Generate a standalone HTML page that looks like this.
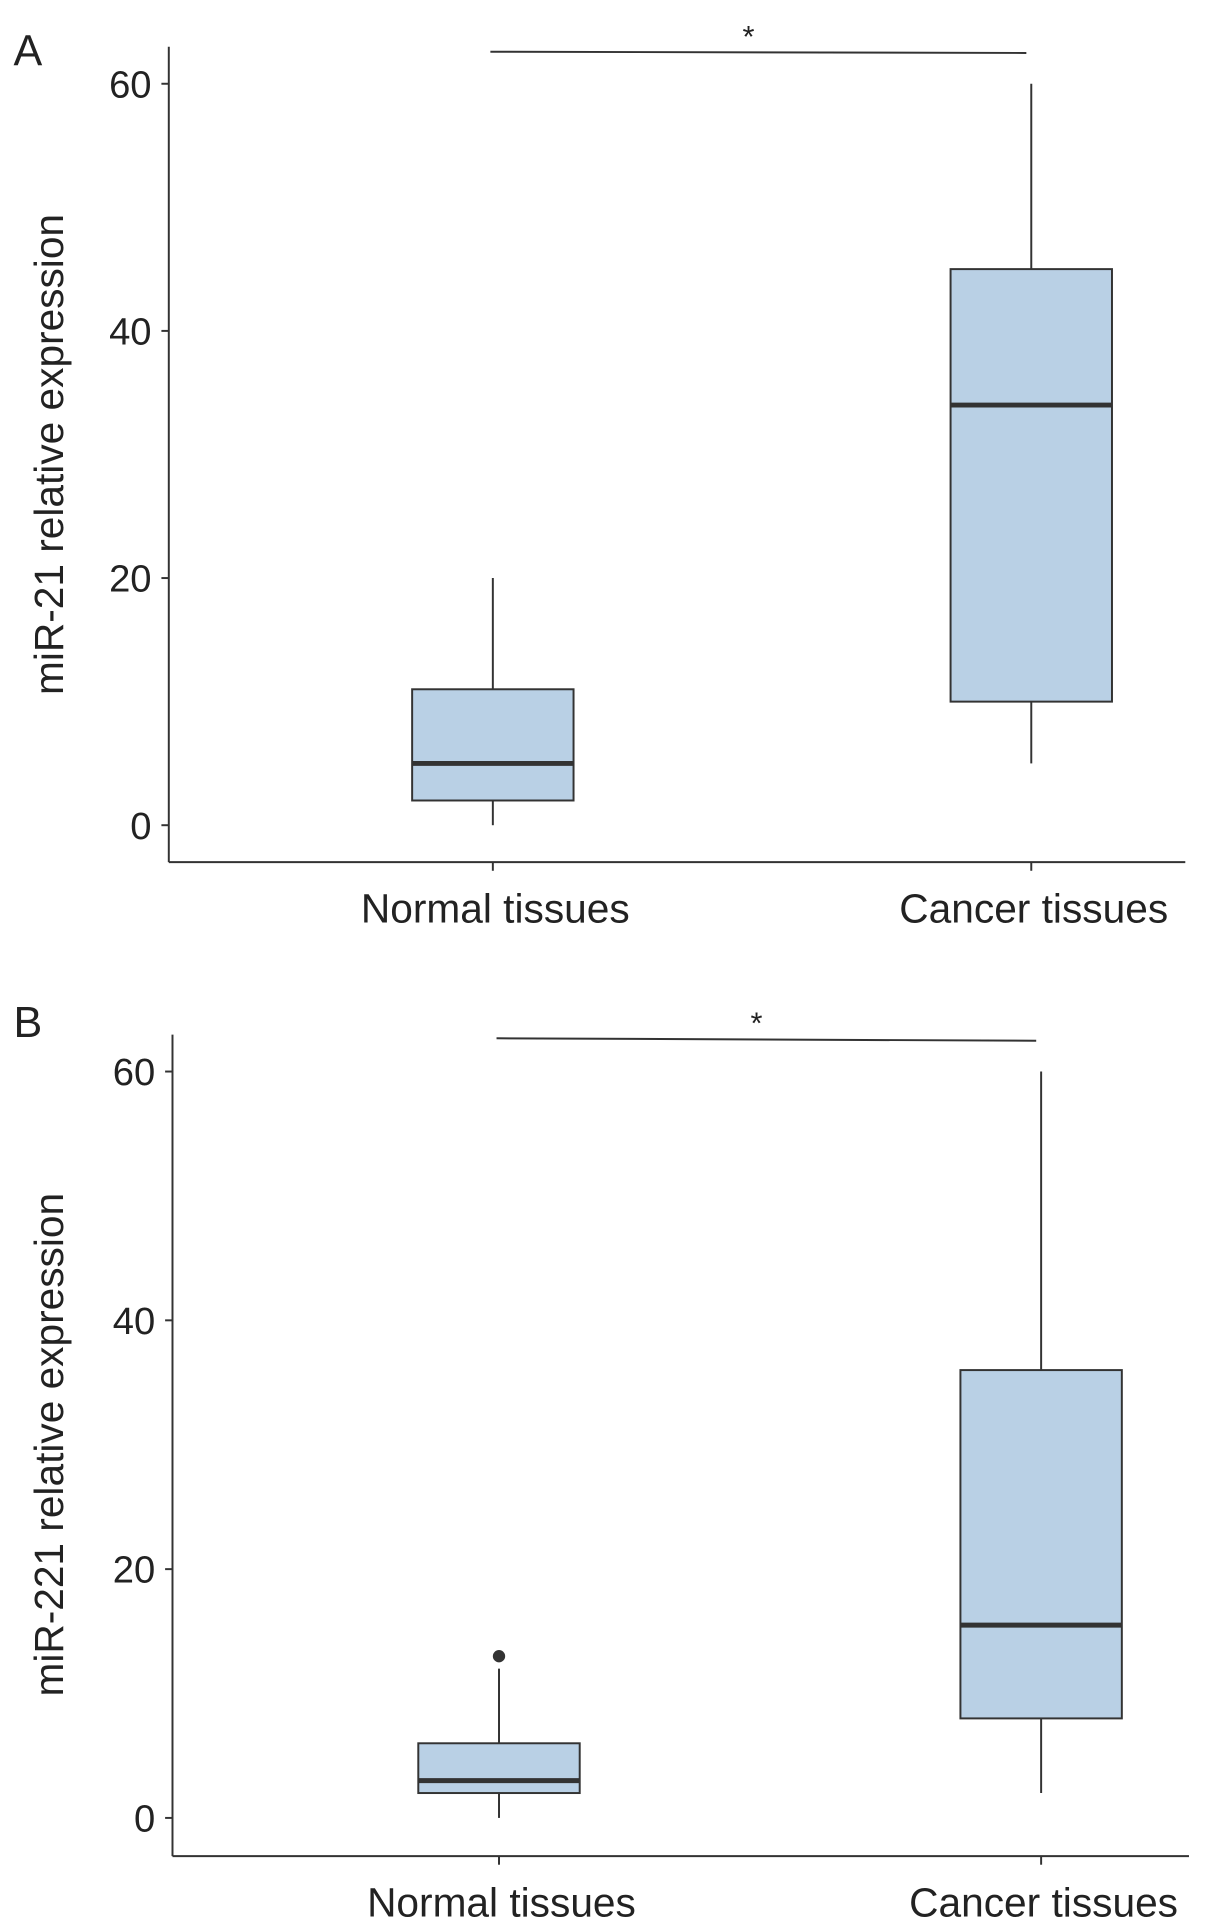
<!DOCTYPE html>
<html><head><meta charset="utf-8"><style>
html,body{margin:0;padding:0;background:#fff}
svg{display:block}
text{font-family:"Liberation Sans",Arial,sans-serif;fill:#222}
</style></head><body>
<svg id="fig" width="1205" height="1930" viewBox="0 0 978 1567" preserveAspectRatio="none" xmlns="http://www.w3.org/2000/svg"></svg>
<script>
const categories = ["Normal tissues", "Cancer tissues"];
const yTicks = [0, 20, 40, 60];
// panel A: miR-21  [low, q1, median, q3, high]
const statsA_normal = [0, 2, 5, 11, 20];
const statsA_cancer = [5, 10, 34, 45, 60];
const outliersA_normal = [];
const outliersA_cancer = [];
// panel B: miR-221
const statsB_normal = [0, 2, 3, 6, 12];
const statsB_cancer = [2, 8, 15.5, 36, 60];
const outliersB_normal = [13];
const outliersB_cancer = [];

const NS = "http://www.w3.org/2000/svg";
const svg = document.getElementById("fig");
function mk(tag, attrs, parent, txt){
  const e = document.createElementNS(NS, tag);
  for (const k in attrs) e.setAttribute(k, attrs[k]);
  if (txt !== undefined) e.textContent = txt;
  (parent || svg).appendChild(e);
  return e;
}
function panel(cfg){
  const g = mk("g", {});
  
  
  const y = v => cfg.y0 - (v / 60) * (cfg.y0 - cfg.y60);
  const xs = [cfg.xN, cfg.xC];
  const lab = mk("text", {x: 11, y: cfg.labY, "font-size": 35}, g, cfg.label);
  
  
  const ya = mk("line", {x1: cfg.ax, y1: cfg.axTop, x2: cfg.ax, y2: cfg.axB, stroke: "#333", "stroke-width": 1.6}, g);
  
  
  const xa = mk("line", {x1: cfg.ax, y1: cfg.axB, x2: cfg.axR, y2: cfg.axB, stroke: "#333", "stroke-width": 1.6}, g);
  
  
  yTicks.forEach(t => {
    const tk = mk("line", {x1: cfg.ax - 6, y1: y(t), x2: cfg.ax, y2: y(t), stroke: "#333", "stroke-width": 1.6}, g);
    
    
    const tl = mk("text", {x: cfg.ax - 14, y: y(t) + 11, "font-size": 31, "text-anchor": "end"}, g, String(t));
    
    
  });
  const yt = mk("text", {x: 0, y: 0, "font-size": 33, "text-anchor": "middle", transform: `translate(51,${(y(60) + y(0)) / 2}) rotate(-90)`}, g, cfg.title);
  
  
  categories.forEach((c, i) => {
    const tk = mk("line", {x1: xs[i], y1: cfg.axB, x2: xs[i], y2: cfg.axB + 7, stroke: "#333", "stroke-width": 1.6}, g);
    
    
    const tl = mk("text", {x: xs[i] + 2, y: cfg.axB + 49, "font-size": 33, "text-anchor": "middle"}, g, c);
    
    
  });
  const hw = 65.5;
  [[cfg.sN, cfg.oN], [cfg.sC, cfg.oC]].forEach(([s, outs], i) => {
    const x = xs[i];
    const bg = mk("g", {}, g);
    
    
    mk("line", {x1: x, y1: y(s[0]), x2: x, y2: y(s[1]), stroke: "#333", "stroke-width": 1.6}, bg);
    mk("line", {x1: x, y1: y(s[3]), x2: x, y2: y(s[4]), stroke: "#333", "stroke-width": 1.6}, bg);
    mk("rect", {x: x - hw, y: y(s[3]), width: 2 * hw, height: y(s[1]) - y(s[3]), fill: "#b9d0e5", stroke: "#333", "stroke-width": 1.6}, bg);
    mk("line", {x1: x - hw, y1: y(s[2]), x2: x + hw, y2: y(s[2]), stroke: "#333", "stroke-width": 4}, bg);
    outs.forEach(o => {
      const c = mk("circle", {cx: x, cy: y(o), r: 5, fill: "#333"}, bg);
      
      
    });
  });
  const sl = mk("line", {x1: cfg.xN - 2, y1: cfg.sigY1, x2: cfg.xC - 4, y2: cfg.sigY2, stroke: "#333", "stroke-width": 1.6}, g);
  
  
  const st = mk("text", {x: (cfg.xN + cfg.xC) / 2 - 11, y: cfg.sigY1 - 4, "font-size": 25, "text-anchor": "middle"}, g, "*");
  
  
}
panel({label: "A", labY: 53, title: "miR-21 relative expression", ax: 137, axTop: 38, axB: 700, axR: 962,
  y0: 670, y60: 68, xN: 400, xC: 837, sN: statsA_normal, sC: statsA_cancer, oN: outliersA_normal, oC: outliersA_cancer,
  sigY1: 42, sigY2: 43});
panel({label: "B", labY: 842, title: "miR-221 relative expression", ax: 140, axTop: 840, axB: 1507, axR: 965,
  y0: 1476, y60: 870, xN: 405, xC: 845, sN: statsB_normal, sC: statsB_cancer, oN: outliersB_normal, oC: outliersB_cancer,
  sigY1: 843, sigY2: 845});
</script>
</body></html>
